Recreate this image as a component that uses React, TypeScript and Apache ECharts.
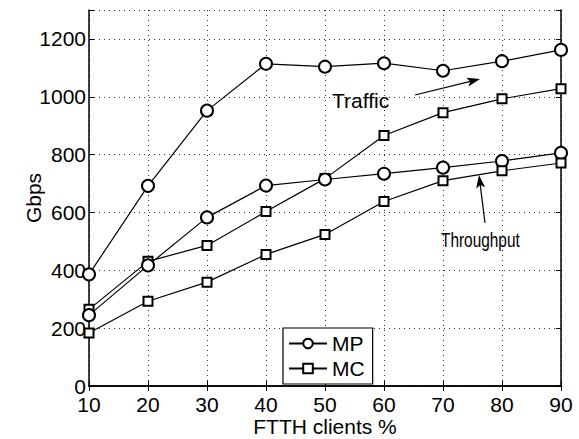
import React, { useEffect, useRef } from "react";
import * as echarts from "echarts";

const clients = [10, 20, 30, 40, 50, 60, 70, 80, 90];
const trafficMP = [386, 692, 952, 1114, 1104, 1116, 1090, 1123, 1162];
const trafficMC = [265, 431, 486, 603, 717, 866, 945, 993, 1028];
const throughputMP = [245, 417, 583, 693, 714, 734, 755, 778, 806];
const throughputMC = [183, 293, 359, 455, 524, 638, 710, 744, 771];
const yTicks = [0, 200, 400, 600, 800, 1000, 1200];

const FONT = "Liberation Sans, Arial, Helvetica, sans-serif";

function pairs(xs: number[], ys: number[]) {
  return xs.map((x, i) => [x, ys[i]]);
}

function arrow(tail: number[], tip: number[]) {
  const dx = tip[0] - tail[0];
  const dy = tip[1] - tail[1];
  const len = Math.sqrt(dx * dx + dy * dy);
  const ux = dx / len, uy = dy / len;
  const nx = -uy, ny = ux;
  const hl = 13, hw = 4.5, notch = 3;
  const bx = tip[0] - hl * ux, by = tip[1] - hl * uy;
  const cx = tip[0] - (hl - notch) * ux, cy = tip[1] - (hl - notch) * uy;
  return [
    {
      type: "line",
      shape: { x1: tail[0], y1: tail[1], x2: cx, y2: cy },
      style: { stroke: "#000", lineWidth: 1.2 },
    },
    {
      type: "polygon",
      shape: {
        points: [
          [tip[0], tip[1]],
          [bx + hw * nx, by + hw * ny],
          [cx, cy],
          [bx - hw * nx, by - hw * ny],
        ],
      },
      style: { fill: "#000" },
    },
  ];
}

export default function App() {
  const ref = useRef<HTMLDivElement>(null);
  useEffect(() => {
    if (!ref.current) return;
    const chart = echarts.init(ref.current, undefined, { renderer: "svg" });
    const axisCommon = {
      axisLine: { show: true, lineStyle: { color: "#000", width: 1.5 } },
      axisTick: { show: true, inside: true, length: 5, lineStyle: { color: "#000" } },
    };
    const lineSeries = (name: string, data: number[][], symbol: string, size: number) => ({
      type: "line",
      name,
      data,
      symbol,
      symbolSize: size,
      showAllSymbol: true,
      lineStyle: { color: "#000", width: 1.2 },
      itemStyle: { color: "#000", borderColor: "#000", borderWidth: 1.2 },
      emphasis: { disabled: true },
    });
    chart.setOption({
      animation: false,
      backgroundColor: "#fff",
      textStyle: { fontFamily: FONT },
      grid: {
        left: 89,
        top: 10,
        width: 472,
        height: 376,
        containLabel: false,
        outerBoundsMode: "none",
      },
      xAxis: [
        {
          type: "value",
          min: 10,
          max: 90,
          interval: 10,
          name: "FTTH clients %",
          nameLocation: "middle",
          nameGap: 30,
          nameMoveOverlap: false,
          nameTextStyle: { fontSize: 21, lineHeight: 21, color: "#000", fontFamily: FONT },
          axisLabel: { fontSize: 21, lineHeight: 21, color: "#000", margin: 8, fontFamily: FONT },
          splitLine: { show: true, lineStyle: { color: "#333", type: [1, 4], width: 1 } },
          ...axisCommon,
        },
        {
          type: "value",
          position: "top",
          min: 10,
          max: 90,
          interval: 10,
          axisLabel: { show: false },
          splitLine: { show: false },
          ...axisCommon,
        },
      ],
      yAxis: [
        {
          type: "value",
          min: 0,
          max: 1300,
          interval: 200,
          name: "Gbps",
          nameLocation: "middle",
          nameGap: 45,
          nameMoveOverlap: false,
          nameTextStyle: { fontSize: 21, color: "#000", fontFamily: FONT },
          axisLabel: {
            fontSize: 21,
            lineHeight: 21,
            color: "#000",
            margin: 3,
            fontFamily: FONT,
            formatter: (v: number) => (yTicks.indexOf(v) >= 0 ? String(v) : ""),
          },
          splitLine: { show: true, lineStyle: { color: "#333", type: [1, 4], width: 1 } },
          ...axisCommon,
        },
        {
          type: "value",
          position: "right",
          min: 0,
          max: 1300,
          interval: 200,
          axisLabel: { show: false },
          splitLine: { show: false },
          ...axisCommon,
        },
      ],
      legend: {
        show: true,
        data: ["MP", "MC"],
        orient: "vertical",
        left: 283,
        top: 328,
        itemWidth: 38,
        itemHeight: 12,
        itemGap: 4,
        padding: [5, 8, 5, 5],
        borderColor: "#000",
        borderWidth: 1.2,
        borderRadius: 0,
        backgroundColor: "#fff",
        selectedMode: false,
        textStyle: { fontSize: 21, color: "#000", fontFamily: FONT, lineHeight: 20 },
      },
      series: [
        lineSeries("MP", pairs(clients, trafficMP), "emptyCircle", 12),
        lineSeries("MC", pairs(clients, trafficMC), "emptyRect", 9),
        lineSeries("MP", pairs(clients, throughputMP), "emptyCircle", 12),
        lineSeries("MC", pairs(clients, throughputMC), "emptyRect", 9),
      ],
      graphic: [
        {
          type: "text",
          left: 332,
          top: 90,
          style: { text: "Traffic", fontSize: 21, fill: "#000", fontFamily: FONT },
        },
        {
          type: "text",
          x: 441,
          y: 230,
          scaleX: 0.79,
          style: { text: "Throughput", fontSize: 19.5, fill: "#000", fontFamily: FONT },
        },
        ...arrow([415, 95], [480, 79]),
        ...arrow([485, 223], [479, 175]),
      ],
    });
    return () => chart.dispose();
  }, []);
  return (
    <div
      ref={ref}
      style={{ position: "fixed", left: 0, top: 0, width: 579, height: 439, background: "#fff" }}
    />
  );
}
